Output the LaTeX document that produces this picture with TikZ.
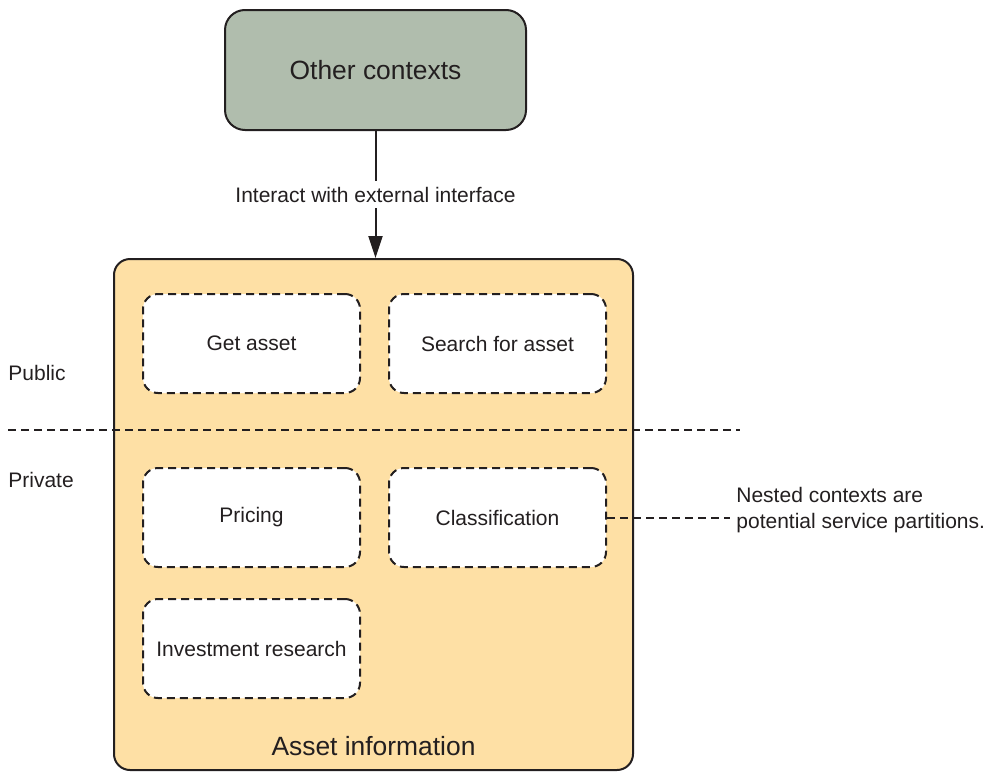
\documentclass[tikz,border=0pt]{standalone}
\usepackage{fontspec}
\setmainfont{Liberation Sans}
\usetikzlibrary{positioning, arrows.meta}
\definecolor{ctxgreen}{RGB}{176, 189, 173}
\definecolor{assetorange}{RGB}{254, 224, 165}
\definecolor{inkgray}{RGB}{35, 31, 32}

\begin{document}
\begin{tikzpicture}[x=0.5pt, y=-0.5pt,
    context/.style={rectangle, draw=inkgray, line width=1pt, rounded corners=10pt,
                    align=center, text=inkgray, font=\fontsize{13.2}{15.5}\selectfont},
    nested/.style={rectangle, draw=inkgray, fill=white, line width=1pt,
                   dash pattern=on 4pt off 2.5pt, rounded corners=7.5pt,
                   minimum width=108.5pt, minimum height=49.5pt, inner sep=0pt,
                   align=center, text=inkgray, font=\fontsize{10.5}{12.6}\selectfont},
    arr/.style={-{Triangle[length=11pt, width=7pt]}, line width=1pt, draw=inkgray},
    divider/.style={line width=1pt, draw=inkgray, dash pattern=on 4pt off 2.5pt},
    side/.style={text=inkgray, inner sep=0pt, align=left, font=\fontsize{10.5}{12.6}\selectfont},
    title/.style={text=inkgray, inner sep=0pt, font=\fontsize{13.2}{15.5}\selectfont}
  ]
  \useasboundingbox (0,0) rectangle (995,771);

  % Contexts
  \node[context, fill=ctxgreen, minimum width=150.5pt, minimum height=60pt,
        anchor=north west] (other) at (224,9) {Other contexts};
  \node[context, fill=assetorange, minimum width=259.5pt, minimum height=255.5pt,
        rounded corners=8pt, anchor=north west] (asset) at (113,258) {};
  \node[title] (assetlbl) at ([yshift=12.5pt]asset.south) {Asset information};

  % Public / private split
  \coordinate (divL) at (8,430);
  \coordinate (divR) at (740,430);
  \draw[divider] (divL) -- (divR);
  \node[side, anchor=west] (public) at (8,373) {Public};
  \node[side, anchor=west] (private) at (8,480) {Private};

  % Nested contexts
  \node[nested, anchor=north west] (get) at (142,293) {Get asset};
  \node[nested, right=13.5pt of get] (search) {Search for asset};
  \node[nested, below=36.5pt of get] (pricing) {Pricing};
  \node[nested, right=13.5pt of pricing] (classif) {Classification};
  \node[nested, below=15pt of pricing] (research) {Investment research};

  % Note
  \node[side, inner sep=3pt, anchor=west] (note) at (730,510)
       {Nested contexts are\\potential service partitions.};

  % Arrows
  \draw[arr] (other.south) -- node[side, fill=white, inner sep=3pt]
       {Interact with external interface} (other.south |- asset.north);
  \draw[divider] (classif.east) -- (classif.east -| note.west);
\end{tikzpicture}
\end{document}
